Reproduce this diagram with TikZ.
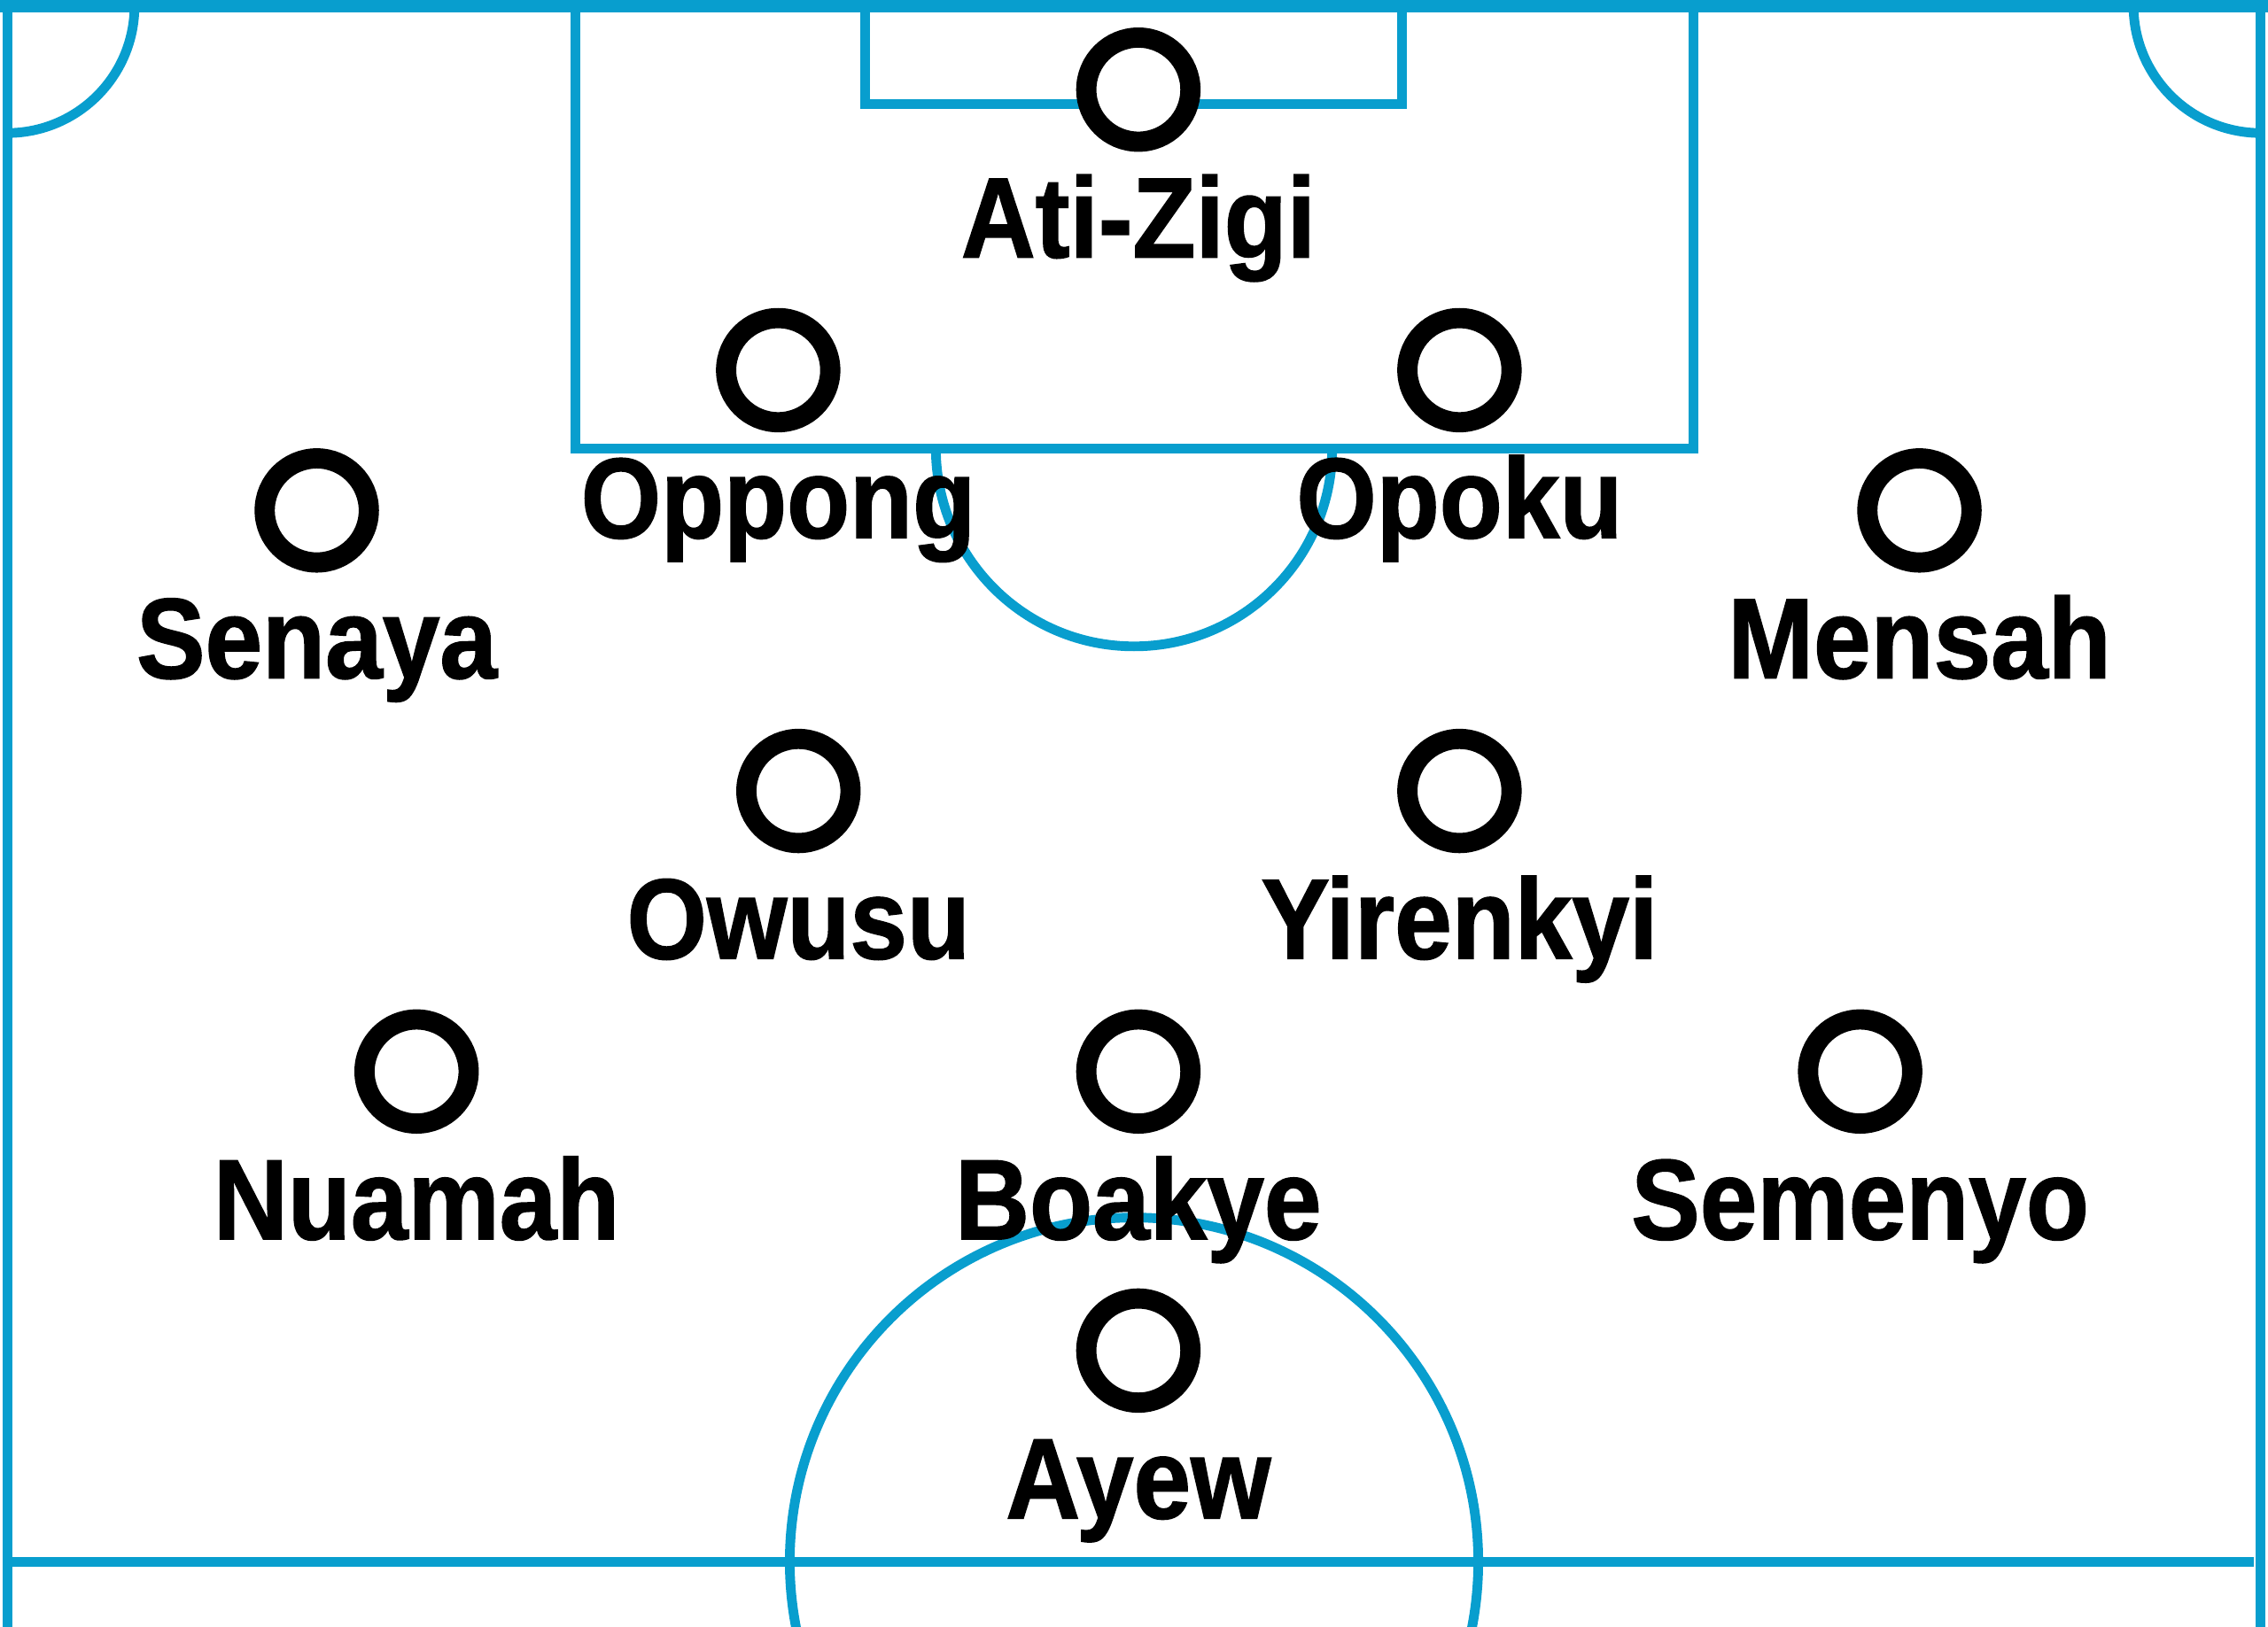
\documentclass[tikz,border=0pt]{standalone}
\usepackage{fontspec}
\newfontfamily\namefont{Liberation Sans}[FakeStretch=0.9, FakeBold=1.2]
\definecolor{pitchblue}{RGB}{8,158,206}

\tikzset{
    pitch/.style={draw=pitchblue, line width=1.9pt},
    player/.style={circle, draw=black, fill=white, line width=0.14cm, minimum size=0.72cm, inner sep=0pt},
    playername/.style={anchor=base, inner sep=0pt, font=\namefont\bfseries\fontsize{22.5}{26}\selectfont}
}

\begin{document}
\begin{tikzpicture}

    \useasboundingbox (0,0) rectangle (15.68,11.25);
    \clip (0,0) rectangle (15.68,11.25);

    % Draw the touch lines and the halfway line
    \draw[pitch, line width=2.6pt] (0,11.21) -- (15.68,11.21);
    \draw[pitch] (0.05,0) -- (0.05,11.21);
    \draw[pitch] (15.63,0) -- (15.63,11.21);
    \draw[pitch] (0.08,0.45) -- (15.58,0.45);

    % Corner arcs
    \draw[pitch] (0.93,11.21) arc (0:-90:0.88);
    \draw[pitch] (14.75,11.21) arc (180:270:0.88);

    % Penalty box, goal area and the arc
    \draw[pitch] (3.98,11.21) -- (3.98,8.15) -- (11.71,8.15) -- (11.71,11.21);
    \draw[pitch] (5.98,11.21) -- (5.98,10.53) -- (9.69,10.53) -- (9.69,11.21);
    \draw[pitch] (6.47,8.15) arc (180:360:1.37);

    % Centre circle
    \draw[pitch] (7.84,0.45) circle (2.38);

    % Players and their names
    \foreach \x/\y/\id/\who in {7.87/10.63/atizigi/Ati-Zigi,
                                5.38/8.69/oppong/Oppong,
                                10.09/8.69/opoku/Opoku,
                                2.19/7.72/senaya/Senaya,
                                13.27/7.72/mensah/Mensah,
                                5.52/5.78/owusu/Owusu,
                                10.09/5.78/yirenkyi/Yirenkyi,
                                2.88/3.84/nuamah/Nuamah,
                                7.87/3.84/boakye/Boakye,
                                12.86/3.84/semenyo/Semenyo,
                                7.87/1.91/ayew/Ayew}
    {
        \node[player] (\id) at (\x,\y) {};
        \node[playername] (\id-name) at ([yshift=-1.16cm]\id.center) {\who};
    }

\end{tikzpicture}
\end{document}
